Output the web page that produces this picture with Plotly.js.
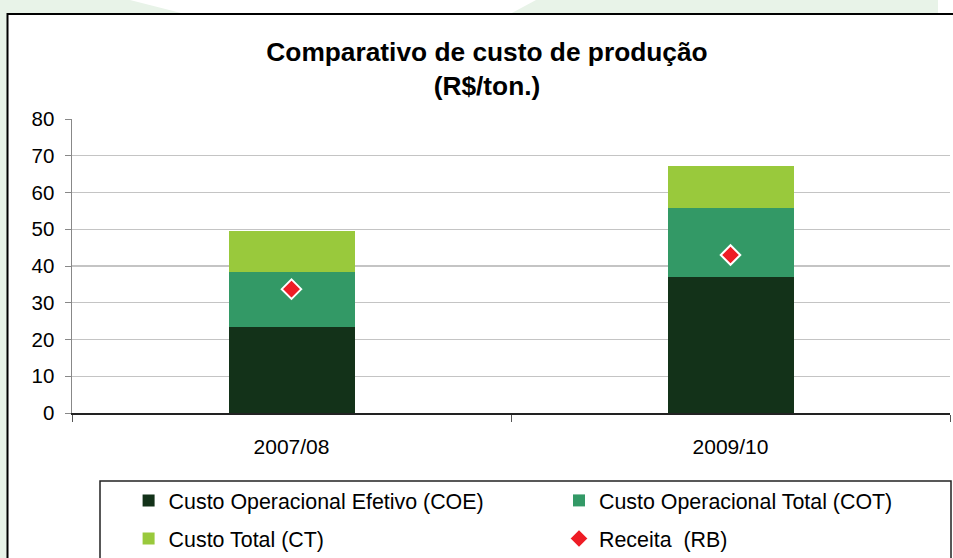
<!DOCTYPE html>
<html>
<head>
<meta charset="utf-8">
<script src="https://cdn.plot.ly/plotly-3.0.1.min.js"></script>
<style>html,body{margin:0;padding:0;background:#fff;}#chart{width:953px;height:558px;}</style>
</head>
<body>
<div id="chart"></div>
<script>
// ---- data ----
const categories = ["2007/08", "2009/10"];
const coe = [23.3, 36.9];          // Custo Operacional Efetivo (segment)
const cotPart = [15.2, 19.0];      // Custo Operacional Total (stacked segment)
const ctPart = [11.1, 11.2];       // Custo Total (stacked segment)
const receita = [33.7, 43.0];      // Receita (RB)
const yTicks = [0, 10, 20, 30, 40, 50, 60, 70, 80];

// ---- geometry helpers (pixel -> paper / container) ----
const W = 953, H = 558, L = 72, R = 950, T = 119, B = 413;
const px = x => (x - L) / (R - L);
const py = y => (B - y) / (B - T);
const cx = x => x / W;
const cy = y => 1 - y / H;

const font = "Liberation Sans, Arial, sans-serif";

const traces = [
  {type: "bar", name: "Custo Operacional Efetivo (COE)", x: categories, y: coe,
   marker: {color: "#133219"}, legend: "legend", hoverinfo: "skip"},
  {type: "bar", name: "Custo Operacional Total (COT)", x: categories, y: cotPart,
   marker: {color: "#339966"}, legend: "legend2", hoverinfo: "skip"},
  {type: "bar", name: "Custo Total (CT)", x: categories, y: ctPart,
   marker: {color: "#99c93c"}, legend: "legend3", hoverinfo: "skip"},
  {type: "scatter", mode: "markers", name: "Receita  (RB)", x: categories, y: receita,
   marker: {symbol: "diamond", size: 15, color: "#ee1c25", line: {color: "#ffffff", width: 2}},
   legend: "legend4", hoverinfo: "skip"}
];

const green = "#e8f3e8";
const shapes = [
  {type: "path", xref: "paper", yref: "paper", layer: "below",
   path: `M${px(0)},${py(0)} L${px(130)},${py(0)} L${px(185)},${py(14)} L${px(0)},${py(14)} Z`,
   fillcolor: green, line: {width: 0}},
  {type: "path", xref: "paper", yref: "paper", layer: "below",
   path: `M${px(536)},${py(0)} L${px(938)},${py(0)} L${px(938)},${py(14)} L${px(510)},${py(14)} Z`,
   fillcolor: green, line: {width: 0}},
  {type: "rect", xref: "paper", yref: "paper", layer: "below",
   x0: px(0), x1: px(7), y0: py(0), y1: py(558), fillcolor: green, line: {width: 0}},
  {type: "rect", xref: "paper", yref: "paper", layer: "below",
   x0: px(7.5), x1: px(960), y0: py(14), y1: py(570), fillcolor: "#ffffff",
   line: {color: "#000000", width: 2}},
  {type: "rect", xref: "paper", yref: "paper", layer: "above",
   x0: px(100), x1: px(951), y0: py(481), y1: py(570), fillcolor: "rgba(0,0,0,0)",
   line: {color: "#222222", width: 1.5}}
];

function leg(textX, rowY) {
  return {
    orientation: "h", xref: "container", yref: "container",
    x: cx(textX - 40), xanchor: "left", y: cy(rowY), yanchor: "middle",
    bgcolor: "rgba(0,0,0,0)", borderwidth: 0,
    font: {family: font, size: 21.4, color: "#000000"}
  };
}

const layout = {
  width: W, height: H,
  margin: {l: L, r: W - R, t: T, b: H - B, pad: 0},
  paper_bgcolor: "#ffffff", plot_bgcolor: "#ffffff",
  font: {family: font, color: "#000000", size: 20},
  barmode: "stack", bargap: 0.713,
  showlegend: true,
  title: {
    text: "<b>Comparativo de custo de produção<br>(R$/ton.)</b>",
    font: {family: font, size: 26.3, color: "#000000"},
    xref: "paper", x: px(487), xanchor: "center",
    yref: "container", y: 1 - 61 / H, yanchor: "top"
  },
  xaxis: {
    type: "category", tickson: "boundaries", ticks: "outside", ticklen: 7,
    tickcolor: "#555555", showline: true, linecolor: "#222222", linewidth: 1.5,
    showgrid: false, tickfont: {family: font, size: 21, color: "#000000"},
    ticklabelstandoff: 14, fixedrange: true
  },
  yaxis: {
    range: [0, 80], tickvals: yTicks, ticktext: yTicks.map(String),
    ticks: "outside", ticklen: 6, tickcolor: "#888888",
    showline: true, linecolor: "#888888", linewidth: 1.5,
    showgrid: true, gridcolor: "#c4c4c4", gridwidth: 1.2, zeroline: false,
    tickfont: {family: font, size: 20.5, color: "#000000"},
    ticklabelstandoff: 6, fixedrange: true
  },
  legend: leg(168.6, 500.5),
  legend2: leg(599, 500.5),
  legend3: leg(168.6, 538.6),
  legend4: leg(599, 538.6),
  shapes: shapes
};

Plotly.newPlot("chart", traces, layout, {displayModeBar: false, staticPlot: true});
</script>
</body>
</html>
